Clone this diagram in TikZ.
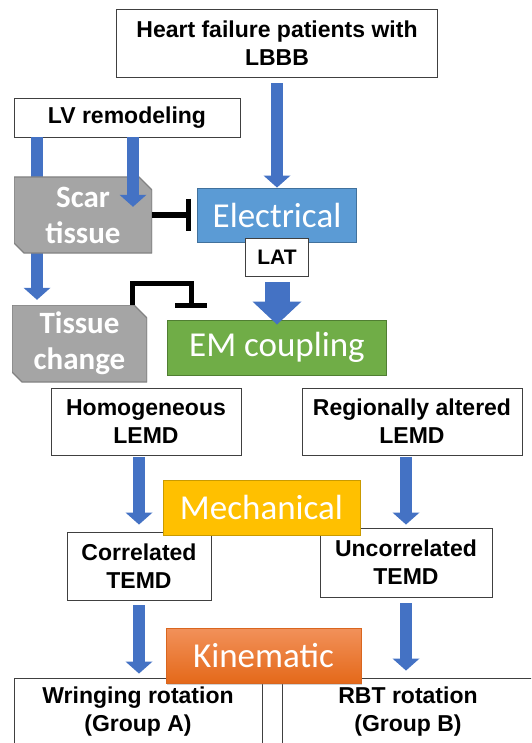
\documentclass[tikz,border=0pt]{standalone}
\usepackage{fontspec}
\setmainfont{Liberation Sans}
\newfontfamily\calfont{Carlito}
\usetikzlibrary{arrows.meta, positioning, calc, shadows}

\definecolor{arrblue}{HTML}{4472C4}
\definecolor{boxline}{HTML}{404040}
\definecolor{elecblue}{HTML}{5B9BD5}
\definecolor{elecline}{HTML}{41719C}
\definecolor{emgreen}{HTML}{70AD47}
\definecolor{emline}{HTML}{507E32}
\definecolor{mechyellow}{HTML}{FFC000}
\definecolor{mechline}{HTML}{C99A00}
\definecolor{kintop}{HTML}{F2915A}
\definecolor{kinbot}{HTML}{E4691A}
\definecolor{kinline}{HTML}{D9661F}
\definecolor{scargray}{HTML}{A5A5A5}
\definecolor{scarline}{HTML}{828282}

\begin{document}
\begin{tikzpicture}[x=1pt, y=-1pt,
    wbox/.style={draw=boxline, fill=white, line width=0.9pt, align=center, inner sep=0pt,
      font=\bfseries\fontsize{23}{28}\selectfont},
    cbox/.style={line width=0.9pt, text=white, inner sep=0pt,
      font=\calfont\fontsize{35}{40}\selectfont},
    gbox/.style={fill=white, text=white, align=center, inner sep=0pt,
      font=\calfont\bfseries\fontsize{31}{36}\selectfont,
      path picture={\filldraw[fill=scargray, draw=scarline, line width=1.4pt]
        (path picture bounding box.north west)
        -- ([xshift=-13pt]path picture bounding box.north east)
        -- ([yshift=-13pt]path picture bounding box.north east)
        -- (path picture bounding box.south east)
        -- ([xshift=10pt]path picture bounding box.south west)
        -- ([yshift=10pt]path picture bounding box.south west) -- cycle;}},
    flow/.style={draw=arrblue, line width=12pt, -{Triangle[length=12pt, width=27pt, line width=0pt]}},
    bigflow/.style={draw=arrblue, line width=25pt, -{Triangle[length=23pt, width=49pt, line width=0pt]}},
    inhib/.style={draw=black, line width=5pt, -{Bar[width=32pt]}}
  ]

    \clip (0,0) rectangle (531,743);

    % Patients and electrical activation
    \node[wbox, minimum width=321pt, minimum height=68pt] (hf) at (277,43) {Heart failure patients with\\LBBB};
    \node[wbox, minimum width=226pt, minimum height=39pt] (lvrem) at (127,117.5) {LV remodeling};
    \node[cbox, fill=elecblue, draw=elecline, minimum width=159pt, minimum height=54pt] (elec) at (277,215) {Electrical};
    \draw[flow] ([yshift=-6pt]hf.south) -- (elec.north);

    % Remodeling branch
    \node[gbox, minimum width=135pt, minimum height=77pt] (tissue) at (79.5,343.5) {Tissue\\change};
    \draw[flow] ([xshift=-90pt]lvrem.south) -- ([xshift=-42.5pt,yshift=5pt]tissue.north);
    \node[gbox, minimum width=138pt, minimum height=76pt] (scar) at (83,215) {Scar\\tissue};
    \draw[flow] ([xshift=6pt]lvrem.south) -- ([xshift=50pt,yshift=-30pt]scar.north);
    \draw[inhib] (scar.east) -- ([xshift=-6pt]elec.west);

    % Electrical to EM coupling
    \node[wbox, minimum width=63pt, minimum height=38pt, font=\bfseries\fontsize{21}{26}\selectfont] (lat) at (277,257) {LAT};
    \node[cbox, fill=emgreen, draw=emline, minimum width=219pt, minimum height=55pt] (emc) at (277,347.5) {EM coupling};
    \draw[bigflow] ([yshift=-6pt]lat.south) -- ([yshift=-5pt]emc.north);
    \draw[inhib] ([xshift=52.5pt]tissue.north) -- ++(0,-21) -| ([xshift=24pt,yshift=11.5pt]emc.north west);

    % Mechanical level
    \node[wbox, minimum width=190pt, minimum height=67pt] (homo) at (146,421.5) {Homogeneous\\LEMD};
    \node[wbox, minimum width=220pt, minimum height=67pt] (regio) at (412,421.5) {Regionally altered\\LEMD};
    \node[wbox, minimum width=144pt, minimum height=68pt] (corr) at (139,566) {Correlated\\TEMD};
    \node[wbox, minimum width=172pt, minimum height=69pt] (uncorr) at (406,562.5) {Uncorrelated\\TEMD};
    \draw[flow] ([xshift=-7pt,yshift=-2pt]homo.south) -- ([yshift=7pt]corr.north);
    \draw[flow] ([xshift=-6pt,yshift=-2pt]regio.south) -- ([yshift=3pt]uncorr.north);
    \node[cbox, fill=mechyellow, draw=mechline, minimum width=197pt, minimum height=55pt] (mech) at (261.5,507.5) {Mechanical};

    % Kinematic level
    \node[wbox, minimum width=248pt, minimum height=68pt] (wring) at (138,712) {Wringing rotation\\(Group A)};
    \node[wbox, minimum width=252pt, minimum height=68pt] (rbt) at (408,712) {RBT rotation\\(Group B)};
    \draw[flow] ([yshift=-5pt]corr.south) -- ([xshift=1pt,yshift=4pt]wring.north);
    \draw[flow] ([yshift=-6pt]uncorr.south) -- ([xshift=-2pt,yshift=7pt]rbt.north);
    \node[cbox, top color=kintop, bottom color=kinbot, draw=kinline,
      drop shadow={shadow xshift=1pt, shadow yshift=-2pt, opacity=0.35},
      minimum width=195pt, minimum height=55pt] (kin) at (263.5,655.5) {Kinematic};

\end{tikzpicture}
\end{document}
